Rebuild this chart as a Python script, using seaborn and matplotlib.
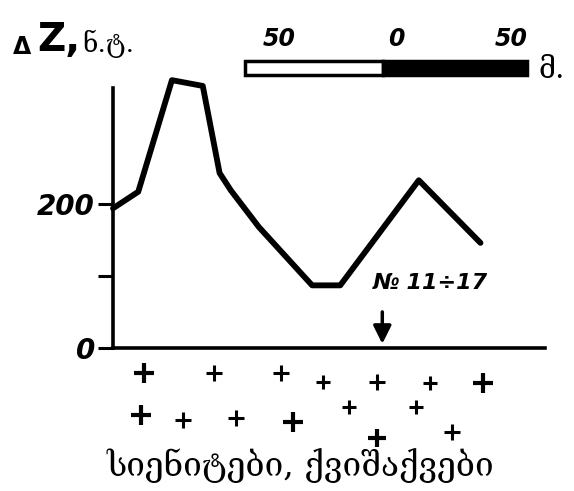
import matplotlib
matplotlib.use("Agg")
import matplotlib.pyplot as plt
import seaborn as sns
import pandas as pd
import numpy as np
from matplotlib.patches import Rectangle

# Profile data: distance along profile (m) and anomaly ΔZ (nT)
distance_m = [0, 9, 21, 32, 38, 42, 52, 67, 71, 81, 109, 131]
delta_z = [194, 217, 372, 364, 243, 219, 168, 104, 87, 87, 233, 146]

# Rock symbols (+) below the profile: x in m, y in nT (below axis), size
plus_x = [11, 36, 60, 75, 94, 113, 132, 10, 25, 44, 64, 84, 108, 94, 121]
plus_y = [-35, -35, -35, -47, -47, -49, -49, -93, -100, -97, -103, -82, -82, -125, -117]
plus_s = [14, 11, 12, 10, 11, 10, 14, 15, 12, 12, 14, 10, 10, 13, 12]

y_ticks = [0, 100, 200]
y_tick_labels = ["0", "", "200"]
scale_labels = ["50", "0", "50"]
marker_x = 96  # borehole No 11-17

sns.set_theme(style="white")
plt.rcParams['font.family'] = ['DejaVu Sans']
plt.rcParams['text.color'] = 'black'

fig = plt.figure(figsize=(5.74, 4.91), dpi=100)
ax = fig.add_axes([113/574, 1-348/491, (545-113)/574, 288/491])

df = pd.DataFrame({"x": distance_m, "dz": delta_z})
sns.lineplot(data=df, x="x", y="dz", ax=ax, color="black", lw=4.2,
             solid_joinstyle="round", solid_capstyle="round", clip_on=False)

ax.set_xlim(0, 154)
ax.set_ylim(0, 400)
for s in ["top", "right"]:
    ax.spines[s].set_visible(False)
ax.spines["left"].set_bounds(0, 361)
ax.spines["left"].set_linewidth(2.6)
ax.spines["bottom"].set_linewidth(2.6)
ax.spines["left"].set_color("black")
ax.spines["bottom"].set_color("black")
ax.set_xticks([])
ax.set_yticks(y_ticks)
ax.set_yticklabels(y_tick_labels, fontsize=20, fontweight="bold", fontstyle="italic")
ax.tick_params(axis="y", left=True, direction="out", length=11, width=2.2,
               color="black", labelcolor="black", pad=2)
ax.set_xlabel("")
ax.set_ylabel("")

# rock symbols
for x, y, s in zip(plus_x, plus_y, plus_s):
    ax.plot([x], [y], marker="+", markersize=s, mew=3.0 if s >= 13 else 2.2,
            color="black", clip_on=False)

# borehole arrow and label
ax.annotate("", xy=(marker_x, 2), xytext=(marker_x, 54),
            arrowprops=dict(arrowstyle="-|>,head_length=0.9,head_width=0.45",
                            color="black", lw=2.5))
ax.text(marker_x + 17, 90, "№ 11÷17", ha="center", va="center",
        fontsize=16, fontweight="bold", fontstyle="italic", color="black")

# axis title
fig.text(13/574, 1-54/491, "Δ", fontsize=17, fontweight="bold", va="baseline")
fig.text(37/574, 1-51/491, "Z,", fontsize=28, fontweight="bold", va="baseline")
fig.text(82/574, 1-52/491, "ნ.ტ.", fontsize=19, va="baseline",
         family=['DejaVu Serif', 'DejaVu Sans'])

# scale bar
bar_left, bar_mid, bar_right = 245/574, 383/574, 527/574
bar_bottom, bar_h = 1-75/491, 14/491
fig.patches.append(Rectangle((bar_left, bar_bottom), bar_mid-bar_left, bar_h,
                             transform=fig.transFigure, facecolor="white",
                             edgecolor="black", lw=2.5))
fig.patches.append(Rectangle((bar_mid, bar_bottom), bar_right-bar_mid, bar_h,
                             transform=fig.transFigure, facecolor="black",
                             edgecolor="black", lw=2.5))
for xp, lab in zip([279, 396, 511], scale_labels):
    fig.text(xp/574, 1-46/491, lab, ha="center", va="baseline",
             fontsize=17, fontweight="bold", fontstyle="italic")
fig.text(538/574, 1-78/491, "მ.", fontsize=21, va="baseline",
         family=['DejaVu Serif', 'DejaVu Sans'])

# caption
fig.text(300/574, 1-466/491, "სიენიტები, ქვიშაქვები", ha="center", va="center",
         fontsize=24, family=['DejaVu Serif', 'DejaVu Sans'])

fig.savefig("out.png", dpi=100)
